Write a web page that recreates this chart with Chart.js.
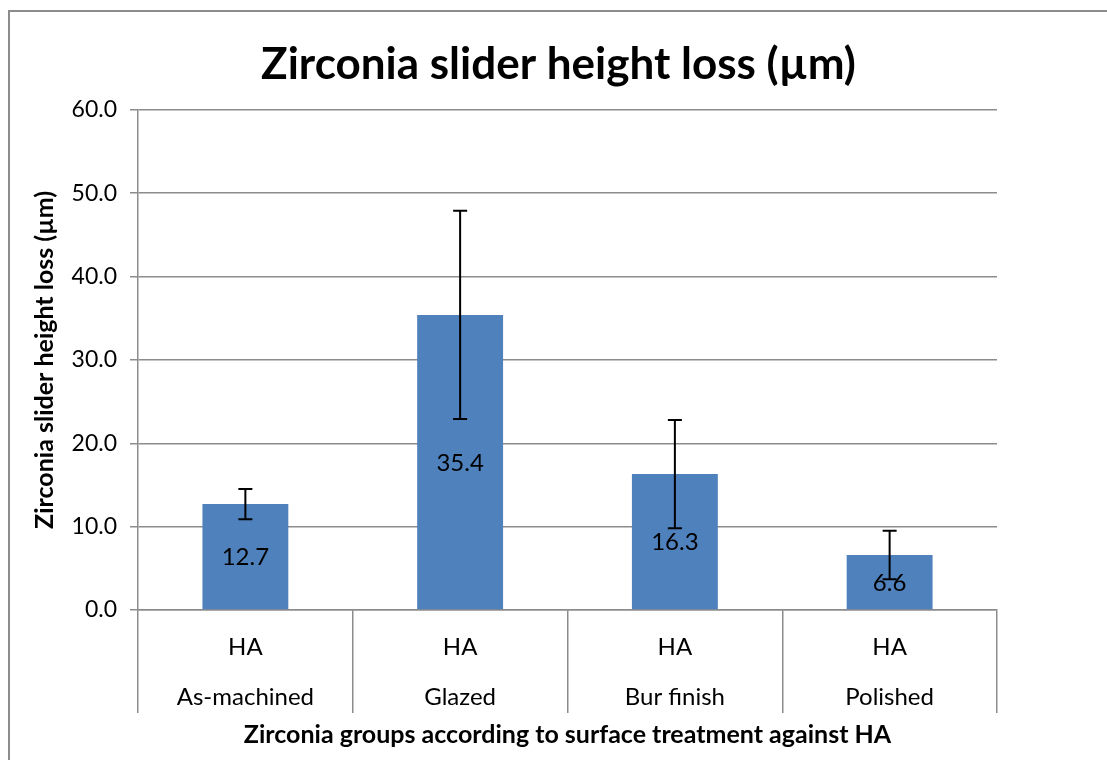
<!DOCTYPE html>
<html>
<head>
<meta charset="utf-8">
<title>Zirconia slider height loss</title>
<script src="https://cdn.jsdelivr.net/npm/chart.js@4.4.1/dist/chart.umd.min.js"></script>
<style>
  html, body { margin: 0; padding: 0; background: #fff; overflow: hidden; }
  #frame {
    position: absolute; left: 8px; top: 10px;
    width: 1200px; height: 900px;
    border: 2px solid #8c8c8c;
  }
  #wrap { position: absolute; left: 0; top: 0; width: 1107px; height: 760px; }
</style>
</head>
<body>
<div id="frame"></div>
<div id="wrap"><canvas id="chart"></canvas></div>
<script>
'use strict';

/* ── Data ── */
const counterface = 'HA';
const groups   = ['As-machined', 'Glazed', 'Bur finish', 'Polished'];
const heightLoss = [12.7, 35.4, 16.3, 6.6];
const sdLoss     = [1.8, 12.5, 6.5, 2.9];
const yTicks     = [0, 10, 20, 30, 40, 50, 60];

const FONT = 'Lato, "Open Sans", sans-serif';
const GRID = '#8c8c8c';

/* ── Error bars (drawn from the y scale) ── */
const errorBars = {
  id: 'errorBars',
  afterDatasetsDraw(chart) {
    const { ctx, scales: { y } } = chart;
    const meta = chart.getDatasetMeta(0);
    ctx.save();
    ctx.strokeStyle = '#000';
    ctx.lineWidth = 2;
    meta.data.forEach((bar, i) => {
      const hi = y.getPixelForValue(heightLoss[i] + sdLoss[i]);
      const lo = y.getPixelForValue(heightLoss[i] - sdLoss[i]);
      const cap = 7;
      ctx.beginPath();
      ctx.moveTo(bar.x, hi); ctx.lineTo(bar.x, lo);
      ctx.moveTo(bar.x - cap, hi); ctx.lineTo(bar.x + cap, hi);
      ctx.moveTo(bar.x - cap, lo); ctx.lineTo(bar.x + cap, lo);
      ctx.stroke();
    });
    ctx.restore();
  }
};

/* ── Value labels, centred in each bar ── */
const valueLabels = {
  id: 'valueLabels',
  afterDraw(chart) {
    const { ctx } = chart;
    const meta = chart.getDatasetMeta(0);
    ctx.save();
    ctx.font = `24px ${FONT}`;
    ctx.fillStyle = '#000';
    ctx.textAlign = 'center';
    ctx.textBaseline = 'middle';
    meta.data.forEach((bar, i) => {
      ctx.fillText(heightLoss[i].toFixed(1), bar.x, (bar.y + bar.base) / 2 + 1);
    });
    ctx.restore();
  }
};

new Chart(document.getElementById('chart'), {
  type: 'bar',
  data: {
    labels: groups.map(g => [counterface, g]),
    datasets: [{
      data: heightLoss,
      backgroundColor: '#4F81BD',
      borderWidth: 0,
      categoryPercentage: 1,
      barPercentage: 0.4
    }]
  },
  options: {
    responsive: true,
    maintainAspectRatio: false,
    animation: false,
    layout: { padding: { left: 10, right: 0, top: 0, bottom: 0 } },
    plugins: {
      legend: { display: false },
      tooltip: { enabled: false },
      title: {
        display: true,
        text: 'Zirconia slider height loss (µm)',
        color: '#000',
        font: { family: FONT, size: 44, weight: 'bold' },
        padding: { top: 38, bottom: 19 }
      }
    },
    scales: {
      x: {
        offset: true,
        afterFit: s => { s.height = 150; },
        border: { display: true, color: GRID, width: 1.5 },
        grid: {
          offset: true,
          drawOnChartArea: false,
          drawTicks: true,
          tickLength: 103,
          color: GRID,
          lineWidth: 1.5
        },
        ticks: {
          color: '#000',
          font: { family: FONT, size: 24, lineHeight: '50px' },
          padding: -91,
          maxRotation: 0,
          autoSkip: false
        },
        title: {
          display: true,
          text: 'Zirconia groups according to surface treatment against HA',
          color: '#000',
          font: { family: FONT, size: 25, weight: 'bold' },
          padding: { top: 4, bottom: 10 }
        }
      },
      y: {
        min: 0,
        max: 60,
        afterBuildTicks: s => { s.ticks = yTicks.map(v => ({ value: v })); },
        afterFit: s => { s.width = 128; },
        border: { display: true, color: GRID, width: 1.5 },
        grid: { color: GRID, lineWidth: 1.5, tickLength: 8 },
        ticks: {
          color: '#000',
          font: { family: FONT, size: 23 },
          padding: 13,
          callback: v => Number(v).toFixed(1)
        },
        title: {
          display: true,
          text: 'Zirconia slider height loss (µm)',
          color: '#000',
          font: { family: FONT, size: 25, weight: 'bold' },
          padding: { top: 20, bottom: 0 }
        }
      },
      // empty right-hand margin so the plot ends where the original does
      yRight: {
        position: 'right',
        display: true,
        afterFit: s => { s.width = 110; },
        grid: { display: false, drawTicks: false },
        border: { display: false },
        ticks: { display: false }
      }
    }
  },
  plugins: [errorBars, valueLabels]
});
</script>
</body>
</html>
